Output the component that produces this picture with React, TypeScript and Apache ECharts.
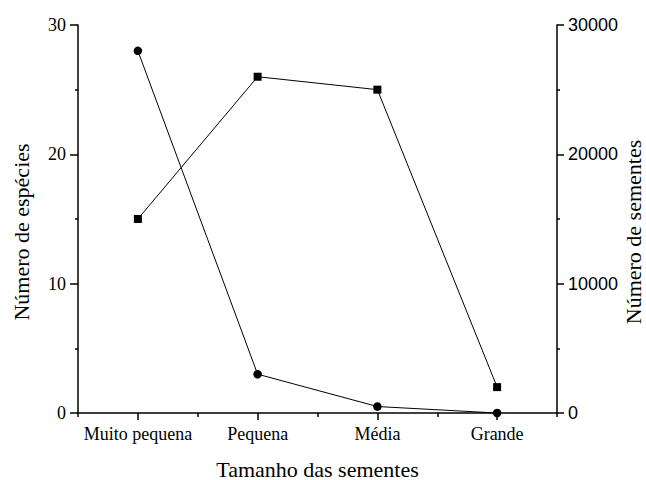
import React, { useEffect, useRef } from "react";
import * as echarts from "echarts";

const categories = ["Muito pequena", "Pequena", "Média", "Grande"];
const especies = [15, 26, 25, 2];
const sementes = [28000, 3000, 500, 0];
const leftName = "Número de espécies";
const rightName = "Número de sementes";
const xName = "Tamanho das sementes";

const serif = "'Liberation Serif', 'Times New Roman', Times, serif";
const sans = "'Liberation Sans', Arial, Helvetica, sans-serif";

export default function App() {
  const ref = useRef<HTMLDivElement>(null);
  useEffect(() => {
    const chart = echarts.init(ref.current!, undefined, { renderer: "svg" });
    const tickStyle = { color: "#000", width: 1.5 };
    const nameStyle = { fontFamily: serif, fontSize: 22, fill: "#000", textAlign: "center", textVerticalAlign: "middle" };
    chart.setOption({
      animation: false,
      backgroundColor: "#fff",
      grid: { left: 78, right: 89, top: 25, bottom: 67, containLabel: false },
      graphic: [
        { type: "text", x: 317.5, y: 469, style: { ...nameStyle, text: xName } },
        { type: "text", x: 21, y: 232, rotation: Math.PI / 2, style: { ...nameStyle, text: leftName } },
        { type: "text", x: 633, y: 232, rotation: Math.PI / 2, style: { ...nameStyle, text: rightName } },
      ],
      xAxis: [
        {
          type: "category",
          data: categories,
          boundaryGap: true,
          axisLine: { show: true, lineStyle: tickStyle },
          axisTick: { show: true, inside: false, alignWithLabel: true, interval: 0, length: 7, lineStyle: tickStyle },
          axisLabel: { show: true, interval: 0, fontFamily: serif, fontSize: 18, color: "#000", margin: 12 },
          splitLine: { show: false },
        },
        {
          type: "category",
          data: categories,
          position: "bottom",
          boundaryGap: true,
          axisLine: { show: false },
          axisTick: { show: true, inside: false, interval: 0, length: 4, lineStyle: tickStyle },
          axisLabel: { show: false },
          splitLine: { show: false },
        },
      ],
      yAxis: [
        {
          type: "value",
          min: 0,
          max: 30,
          interval: 10,
          axisLine: { show: true, lineStyle: tickStyle },
          axisTick: { show: true, inside: false, length: 8, lineStyle: tickStyle },
          minorTick: { show: true, splitNumber: 2, length: 3, lineStyle: tickStyle },
          axisLabel: { fontFamily: serif, fontSize: 18, color: "#000", margin: 12 },
          splitLine: { show: false },
        },
        {
          type: "value",
          min: 0,
          max: 30000,
          interval: 10000,
          position: "right",
          axisLine: { show: true, lineStyle: tickStyle },
          axisTick: { show: true, inside: false, length: 7, lineStyle: tickStyle },
          minorTick: { show: true, splitNumber: 2, length: 3, lineStyle: tickStyle },
          axisLabel: {
            fontFamily: sans,
            fontSize: 18,
            color: "#000",
            margin: 11,
            formatter: (v: number) => String(v),
          },
          splitLine: { show: false },
        },
      ],
      series: [
        {
          type: "line",
          name: leftName,
          data: especies,
          yAxisIndex: 0,
          symbol: "rect",
          symbolSize: 8,
          lineStyle: { color: "#000", width: 1 },
          itemStyle: { color: "#000" },
        },
        {
          type: "line",
          name: rightName,
          data: sementes,
          yAxisIndex: 1,
          symbol: "circle",
          symbolSize: 8.5,
          lineStyle: { color: "#000", width: 1 },
          itemStyle: { color: "#000" },
        },
      ],
    });
    return () => chart.dispose();
  }, []);
  return <div ref={ref} style={{ width: 646, height: 480, position: "absolute", left: 0, top: 0 }} />;
}
